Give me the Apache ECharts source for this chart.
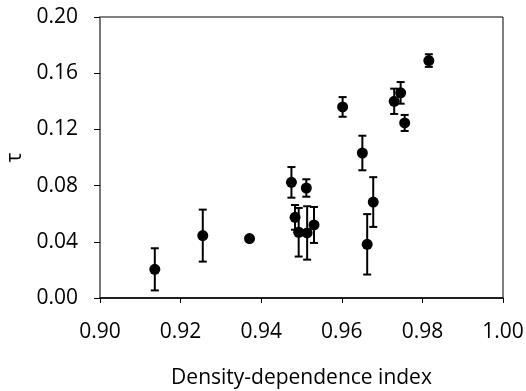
<!DOCTYPE html>
<html>
<head>
<meta charset="utf-8">
<script src="https://cdn.jsdelivr.net/npm/echarts@6/dist/echarts.min.js"></script>
<style>
html,body{margin:0;padding:0;background:#fff;}
#chart{width:526px;height:391px;}
</style>
</head>
<body>
<div id="chart"></div>
<script>
// Density-dependence index (x), tau (y), standard error (err)
const xValues = [0.9136, 0.9255, 0.9371, 0.9475, 0.9484, 0.9493, 0.9512, 0.9514, 0.9531, 0.9602, 0.9651, 0.9663, 0.9678, 0.9730, 0.9746, 0.9756, 0.9816];
const yValues = [0.0204, 0.0444, 0.0423, 0.0823, 0.0574, 0.0468, 0.0783, 0.0463, 0.0520, 0.1360, 0.1032, 0.0382, 0.0683, 0.1400, 0.1460, 0.1246, 0.1690];
const errValues = [0.0150, 0.0185, 0.0000, 0.0109, 0.0088, 0.0173, 0.0062, 0.0190, 0.0128, 0.0070, 0.0123, 0.0215, 0.0177, 0.0090, 0.0077, 0.0057, 0.0045];
const xTicks = [0.90, 0.92, 0.94, 0.96, 0.98, 1.00];
const yTicks = [0.00, 0.04, 0.08, 0.12, 0.16, 0.20];
const xTitle = 'Density-dependence index';
const yTitle = 'τ';

const FONT = 'Open Sans';
const points = xValues.map((x, i) => [x, yValues[i]]);
const bars = xValues.map((x, i) => [x, yValues[i] - errValues[i], yValues[i] + errValues[i]]);

const chart = echarts.init(document.getElementById('chart'), null, {renderer: 'canvas'});
chart.setOption({
  animation: false,
  backgroundColor: '#fff',
  grid: {left: 100, right: 23, top: 17, bottom: 93, show: true, borderColor: '#000', borderWidth: 1,
         backgroundColor: 'transparent', containLabel: false, outerBoundsMode: 'none'},
  xAxis: {
    type: 'value', min: xTicks[0], max: xTicks[xTicks.length - 1], interval: 0.02,
    name: xTitle, nameLocation: 'middle', nameGap: 70,
    nameTextStyle: {fontFamily: FONT, fontSize: 21, color: '#000'},
    axisLine: {show: true, onZero: false, lineStyle: {color: '#000', width: 1.5}},
    axisTick: {show: true, inside: false, length: 5, lineStyle: {color: '#000', width: 1}},
    axisLabel: {fontFamily: FONT, fontSize: 21, color: '#000', margin: 24, formatter: v => v.toFixed(2)},
    splitLine: {show: false}
  },
  yAxis: {
    type: 'value', min: yTicks[0], max: yTicks[yTicks.length - 1], interval: 0.04,
    name: yTitle, nameLocation: 'middle', nameGap: 74, nameRotate: 90,
    nameTextStyle: {fontFamily: FONT, fontSize: 21, color: '#000'},
    axisLine: {show: true, onZero: false, lineStyle: {color: '#777', width: 2}},
    axisTick: {show: true, inside: false, length: 6, lineStyle: {color: '#000', width: 1}},
    axisLabel: {fontFamily: FONT, fontSize: 21, color: '#000', margin: 22, formatter: v => v.toFixed(2)},
    splitLine: {show: false}
  },
  series: [
    {
      type: 'custom',
      data: bars,
      z: 2,
      renderItem: function (params, api) {
        const x = api.value(0);
        const lo = api.coord([x, api.value(1)]);
        const hi = api.coord([x, api.value(2)]);
        const hw = 4;
        const style = {stroke: '#000', lineWidth: 2};
        return {
          type: 'group',
          children: [
            {type: 'line', shape: {x1: lo[0], y1: lo[1], x2: hi[0], y2: hi[1]}, style: style},
            {type: 'line', shape: {x1: lo[0] - hw, y1: lo[1], x2: lo[0] + hw, y2: lo[1]}, style: style},
            {type: 'line', shape: {x1: hi[0] - hw, y1: hi[1], x2: hi[0] + hw, y2: hi[1]}, style: style}
          ]
        };
      }
    },
    {
      type: 'scatter',
      data: points,
      symbol: 'circle',
      symbolSize: 11,
      z: 3,
      itemStyle: {color: '#000', opacity: 1}
    }
  ]
});
</script>
</body>
</html>
